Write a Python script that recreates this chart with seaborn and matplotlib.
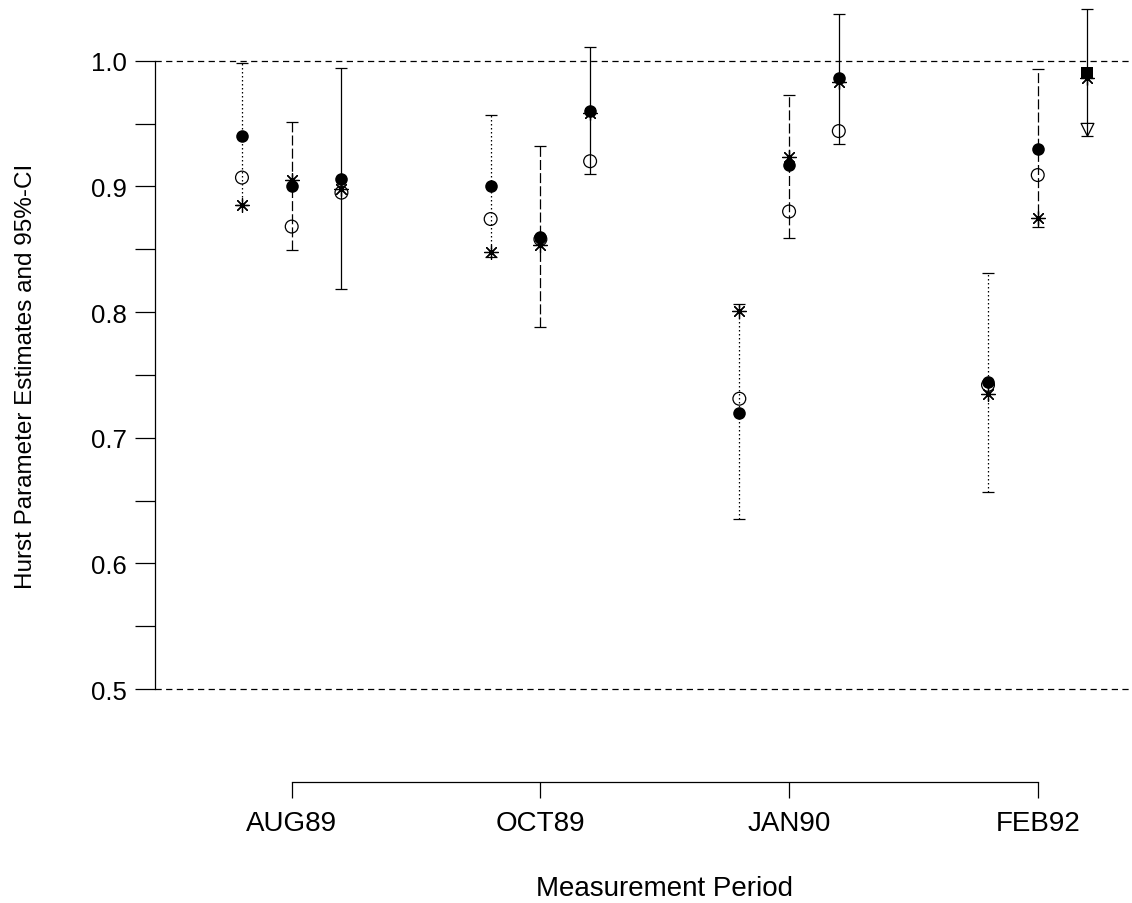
import matplotlib
matplotlib.use("Agg")
import matplotlib.pyplot as plt
import numpy as np
import pandas as pd
import seaborn as sns

# measurement periods on the x axis
periods = ["AUG89", "OCT89", "JAN90", "FEB92"]

# estimator drawn on the left of each period (dotted CI)
dotted_filled = [0.940, 0.900, 0.720, 0.744]
dotted_open = [0.907, 0.874, 0.731, 0.742]
dotted_star = [0.885, 0.848, 0.801, 0.735]
dotted_lo = [0.885, 0.844, 0.635, 0.657]
dotted_hi = [0.998, 0.957, 0.806, 0.831]

# estimator in the middle (long dashed CI)
dash_filled = [0.900, 0.860, 0.917, 0.930]
dash_open = [0.868, 0.858, 0.880, 0.909]
dash_star = [0.905, 0.853, 0.923, 0.875]
dash_lo = [0.849, 0.788, 0.859, 0.868]
dash_hi = [0.951, 0.932, 0.973, 0.993]

# estimator on the right (solid CI)
solid_filled = [0.906, 0.960, 0.986, 0.990]
solid_open = [0.895, 0.920, 0.944, 0.945]
solid_star = [0.898, 0.958, 0.983, 0.986]
solid_lo = [0.818, 0.910, 0.934, 0.940]
solid_hi = [0.994, 1.011, 1.037, 1.041]

# FEB92 right-hand estimate is plotted with square / triangle symbols
solid_filled_marker = ["o", "o", "o", "s"]
solid_open_marker = ["o", "o", "o", "v"]

groups = [
    ("dotted", -0.2, (0, (1.2, 2.0)), dotted_filled, dotted_open, dotted_star, dotted_lo, dotted_hi),
    ("dash", 0.0, (0, (8, 2.5)), dash_filled, dash_open, dash_star, dash_lo, dash_hi),
    ("solid", 0.2, "-", solid_filled, solid_open, solid_star, solid_lo, solid_hi),
]

rows = []
for name, off, ls, f, o, s, lo, hi in groups:
    for i, p in enumerate(periods):
        rows.append({"method": name, "period": p, "x": i + off, "filled": f[i],
                     "open": o[i], "star": s[i], "lo": lo[i], "hi": hi[i]})
df = pd.DataFrame(rows)
df["fmark"] = "o"
df["omark"] = "o"
df.loc[df["method"] == "solid", "fmark"] = solid_filled_marker
df.loc[df["method"] == "solid", "omark"] = solid_open_marker

sns.set_style("white")
plt.rcParams["font.family"] = ["Liberation Sans", "DejaVu Sans"]
plt.rcParams["text.color"] = "black"
plt.rcParams["axes.labelcolor"] = "black"
plt.rcParams["xtick.color"] = "black"
plt.rcParams["ytick.color"] = "black"

W, H = 1132, 904
fig = plt.figure(figsize=(W / 100, H / 100), dpi=100)
ax = fig.add_axes([155 / W, (H - 783) / H, (W - 155) / W, 783 / H])

ax.axhline(1.0, color="black", lw=0.9, ls=(0, (5, 3.5)), zorder=1)
ax.axhline(0.5, color="black", lw=0.9, ls=(0, (5, 3.5)), zorder=1)

for name, off, ls, *_ in groups:
    d = df[df["method"] == name]
    eb = ax.errorbar(d["x"], (d["lo"] + d["hi"]) / 2,
                     yerr=(d["hi"] - d["lo"]) / 2, fmt="none",
                     ecolor="black", elinewidth=0.9, capsize=4, capthick=0.9, zorder=2)
    eb[2][0].set_linestyle(ls)

for mk in ["o", "s"]:
    d = df[df["fmark"] == mk]
    sns.scatterplot(data=d, x="x", y="filled", marker=mk, color="black",
                    s=82, linewidth=0, ax=ax, zorder=3, legend=False)
for mk in ["o", "v"]:
    d = df[df["omark"] == mk]
    sns.scatterplot(data=d, x="x", y="open", marker=mk, facecolors="none",
                    edgecolor="black", s=85, linewidth=0.9, ax=ax, zorder=4, legend=False)
sns.scatterplot(data=df, x="x", y="star", marker=(8, 2, 0), color="black",
                s=100, linewidth=0.9, ax=ax, zorder=5, legend=False)

ax.set_xlim(-0.5497, 3.379)
ax.set_ylim(0.426, 1.0491)

for side in ["top", "right"]:
    ax.spines[side].set_visible(False)
ax.spines["left"].set_bounds(0.5, 1.0)
ax.spines["bottom"].set_bounds(0, 3)
for side in ["left", "bottom"]:
    ax.spines[side].set_color("black")
    ax.spines[side].set_linewidth(0.9)

yt = np.round(np.arange(0.5, 1.001, 0.05), 2)
ax.set_yticks(yt)
ax.set_yticklabels([f"{v:.1f}" if round(v * 100) % 10 == 0 else "" for v in yt])
ax.set_xticks(range(len(periods)))
ax.set_xticklabels(periods)
ax.tick_params(axis="y", direction="out", length=14.4, width=0.9, color="black",
               labelsize=18.5, pad=6, left=True)
ax.tick_params(axis="x", direction="out", length=11.5, width=0.9, color="black",
               labelsize=20, pad=9, bottom=True)

ax.set_xlabel("Measurement Period", fontsize=20)
ax.set_ylabel("Hurst Parameter Estimates and 95%-CI", fontsize=17.5)
ax.xaxis.set_label_coords((665 - 155) / (W - 155), (783 - 876) / 783)
ax.yaxis.set_label_coords((37 - 155) / (W - 155), (783 - 376) / 783)

fig.savefig("out.png", dpi=100)
